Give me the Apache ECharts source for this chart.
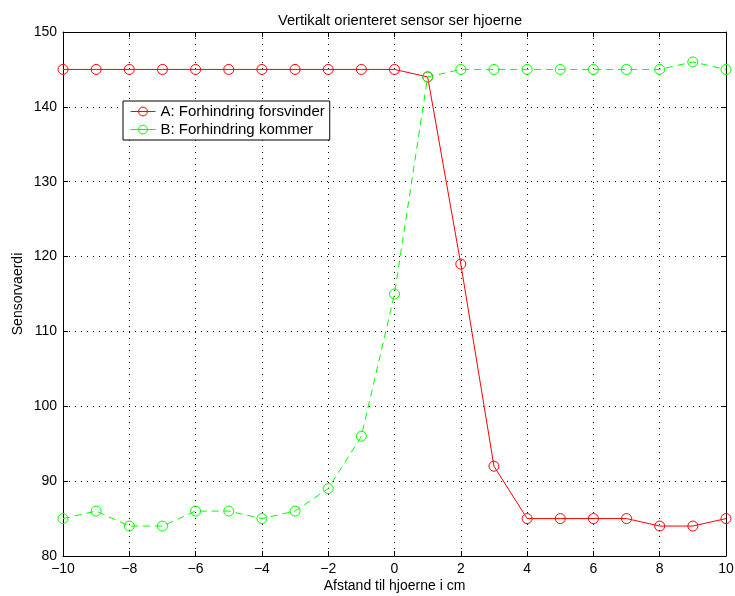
<!DOCTYPE html>
<html>
<head>
<meta charset="utf-8">
<script src="https://cdn.jsdelivr.net/npm/echarts@6/dist/echarts.min.js"></script>
<style>
  html, body { margin: 0; padding: 0; background: #fff; }
  #chart { width: 735px; height: 596px; }
</style>
</head>
<body>
<div id="chart"></div>
<script>
// Distance to the corner (cm)
const distance = [-10, -9, -8, -7, -6, -5, -4, -3, -2, -1, 0, 1, 2, 3, 4, 5, 6, 7, 8, 9, 10];
// A: obstacle disappears
const seriesA = [145, 145, 145, 145, 145, 145, 145, 145, 145, 145, 145, 144, 119, 92, 85, 85, 85, 85, 84, 84, 85];
// B: obstacle appears
const seriesB = [85, 86, 84, 84, 86, 86, 85, 86, 89, 96, 115, 144, 145, 145, 145, 145, 145, 145, 145, 146, 145];

const nameA = 'A: Forhindring forsvinder';
const nameB = 'B: Forhindring kommer';

const FONT = 'Liberation Sans, Arial, Helvetica, sans-serif';
const minusFmt = v => String(v).replace('-', '\u2212');

const pairs = (xs, ys) => xs.map((x, i) => [x, ys[i]]);

const gridLine = { show: true, lineStyle: { color: '#000', type: [1, 5], width: 1 } };
const frame = { show: true, onZero: false, lineStyle: { color: '#000', width: 1 } };
const tickIn = { show: true, inside: true, length: 5, lineStyle: { color: '#000' } };

const chart = echarts.init(document.getElementById('chart'), null, { renderer: 'canvas' });
chart.setOption({
  animation: false,
  backgroundColor: '#fff',
  title: {
    text: 'Vertikalt orienteret sensor ser hjoerne',
    left: 395, top: 8, textAlign: 'center',
    textStyle: { fontFamily: FONT, fontSize: 14.7, fontWeight: 'normal', color: '#000' }
  },
  grid: { left: 63, right: 9, top: 32, bottom: 40, outerBoundsMode: 'none', containLabel: false },
  legend: {
    orient: 'vertical',
    left: 123, top: 101,
    padding: [3, 5, 3, 7],
    itemGap: 3,
    itemWidth: 25, itemHeight: 11,
    backgroundColor: '#fff',
    borderColor: '#000', borderWidth: 1,
    itemStyle: { borderWidth: 1 },
    lineStyle: { width: 1, type: 'solid' },
    textStyle: { fontFamily: FONT, fontSize: 15, color: '#000' },
    data: [nameA, nameB]
  },
  xAxis: [
    {
      type: 'value', min: -10, max: 10, interval: 2,
      position: 'bottom',
      axisLine: frame, axisTick: tickIn, splitLine: gridLine,
      axisLabel: { formatter: minusFmt, color: '#000', fontFamily: FONT, fontSize: 14, margin: 6 },
      name: 'Afstand til hjoerne i cm', nameLocation: 'middle', nameGap: 23,
      nameMoveOverlap: false,
      nameTextStyle: { fontFamily: FONT, fontSize: 14, color: '#000' }
    },
    {
      type: 'value', min: -10, max: 10, interval: 2,
      position: 'top',
      axisLine: frame, axisTick: tickIn, splitLine: { show: false },
      axisLabel: { show: false }
    }
  ],
  yAxis: [
    {
      type: 'value', min: 80, max: 150, interval: 10,
      position: 'left',
      axisLine: frame, axisTick: tickIn, splitLine: gridLine,
      axisLabel: { color: '#000', fontFamily: FONT, fontSize: 14, margin: 6 },
      name: 'Sensorvaerdi', nameLocation: 'middle', nameGap: 38,
      nameMoveOverlap: false,
      nameTextStyle: { fontFamily: FONT, fontSize: 14, color: '#000' }
    },
    {
      type: 'value', min: 80, max: 150, interval: 10,
      position: 'right',
      axisLine: frame, axisTick: tickIn, splitLine: { show: false },
      axisLabel: { show: false }
    }
  ],
  series: [
    {
      name: nameA, type: 'line',
      data: pairs(distance, seriesA),
      symbol: 'circle', symbolSize: 10,
      color: '#ff0000',
      lineStyle: { color: '#ff0000', width: 1 },
      itemStyle: { color: 'rgba(0,0,0,0)', borderColor: '#ff0000', borderWidth: 1 },
      emphasis: { disabled: true }
    },
    {
      name: nameB, type: 'line',
      data: pairs(distance, seriesB),
      symbol: 'circle', symbolSize: 10,
      color: '#00ff00',
      lineStyle: { color: '#00ff00', width: 1, type: [7, 5] },
      itemStyle: { color: 'rgba(0,0,0,0)', borderColor: '#00ff00', borderWidth: 1 },
      emphasis: { disabled: true }
    }
  ]
});
</script>
</body>
</html>
